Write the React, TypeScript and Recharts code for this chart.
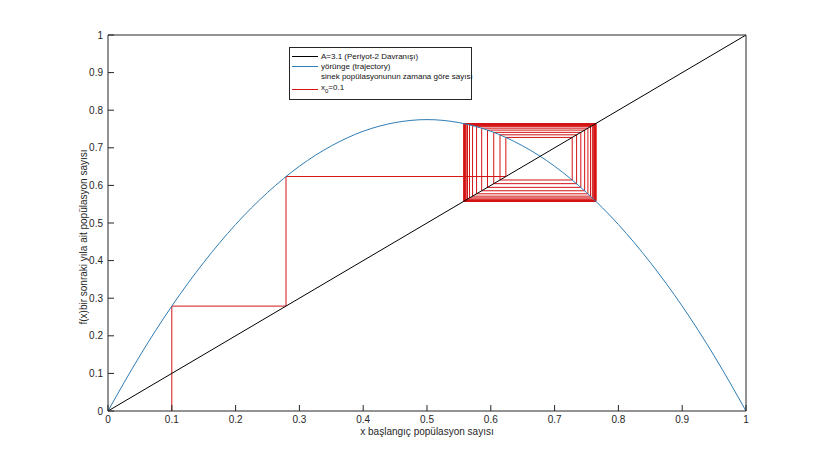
import { ComposedChart, Line, XAxis, YAxis, Label } from 'recharts'

// ── values ─────────────────────────────────────────────────────
const TICKS = [0, 0.1, 0.2, 0.3, 0.4, 0.5, 0.6, 0.7, 0.8, 0.9, 1]
const TICK_LABELS = ['0', '0.1', '0.2', '0.3', '0.4', '0.5', '0.6', '0.7', '0.8', '0.9', '1']

// parabola f(x) (blue)
const curveX = [0, 0.05, 0.1, 0.15, 0.2, 0.25, 0.3, 0.35, 0.4, 0.45, 0.5, 0.55, 0.6, 0.65, 0.7, 0.75, 0.8, 0.85, 0.9, 0.95, 1]
const curveY = [0, 0.147, 0.279, 0.395, 0.496, 0.581, 0.651, 0.705, 0.744, 0.767, 0.775, 0.767, 0.744, 0.705, 0.651, 0.581, 0.496, 0.395, 0.279, 0.147, 0]

// y = x (black)
const diagX = [0, 1]
const diagY = [0, 1]

// population from year to year, starting at x0 = 0.1 (red cobweb)
const orbit = [
  0.1, 0.279, 0.6236, 0.7276, 0.6144, 0.7345, 0.6046, 0.7411, 0.5948, 0.7471,
  0.5857, 0.7522, 0.5777, 0.7563, 0.5714, 0.7592, 0.5667, 0.7612, 0.5635, 0.7625,
  0.5614, 0.7633, 0.5601, 0.7638, 0.5593, 0.7641, 0.5588, 0.7643, 0.5585, 0.7644,
  0.5583, 0.7645, 0.5582, 0.7645, 0.5581, 0.7646, 0.5581, 0.7646,
]

const curveData = curveX.map((x, i) => ({ x, y: curveY[i] }))
const diagData = diagX.map((x, i) => ({ x, y: diagY[i] }))
const cobwebData: { x: number; y: number }[] = [{ x: orbit[0], y: 0 }]
for (let i = 0; i < orbit.length - 1; i++) {
  cobwebData.push({ x: orbit[i], y: orbit[i + 1] })
  cobwebData.push({ x: orbit[i + 1], y: orbit[i + 1] })
}

const FONT = '"Liberation Sans", Arial, Helvetica, sans-serif'
const AXIS = '#262626'
const M = 8   // tick margin
const T = 6   // inward tick length

const labelFor = (v: number) => TICK_LABELS[TICKS.indexOf(v)] ?? String(v)

// MATLAB-style inward ticks
const BottomTick = ({ x, y, payload }: any) => (
  <g>
    <line x1={x} x2={x} y1={y - M} y2={y - M - T} stroke={AXIS} />
    <text x={x} y={y + 4} textAnchor="middle" fontSize={10} fill={AXIS} fontFamily={FONT}>{labelFor(payload.value)}</text>
  </g>
)
const TopTick = ({ x, y }: any) => <line x1={x} x2={x} y1={y + M} y2={y + M + T} stroke={AXIS} />
const LeftTick = ({ x, y, payload }: any) => (
  <g>
    <line x1={x + M} x2={x + M + T} y1={y} y2={y} stroke={AXIS} />
    <text x={x + 3} y={y + 3.5} textAnchor="end" fontSize={10} fill={AXIS} fontFamily={FONT}>{labelFor(payload.value)}</text>
  </g>
)
const RightTick = ({ x, y }: any) => <line x1={x - M} x2={x - M - T} y1={y} y2={y} stroke={AXIS} />

const legendRow = { display: 'flex', alignItems: 'center', height: 10.5, whiteSpace: 'nowrap' as const }
const sample = (color: string) => (
  <span style={{ display: 'inline-block', flexShrink: 0, width: 26, height: 0, borderTop: `1px solid ${color}`, marginRight: 3 }} />
)

export default function App() {
  return (
    <div style={{ position: 'absolute', left: 0, top: 0, width: 825, height: 462, background: '#fff', fontFamily: FONT }}>
      <ComposedChart width={825} height={462} margin={{ top: 25, right: 69, bottom: 21, left: 68 }}>
        <XAxis xAxisId="b" type="number" dataKey="x" domain={[0, 1]} ticks={TICKS} orientation="bottom"
          height={30} stroke={AXIS} tickLine={false} tickSize={0} tickMargin={M} tick={<BottomTick />} interval={0}>
          <Label content={() => (
            <text x={427} y={435} textAnchor="middle" fontSize={10} fill={AXIS} fontFamily={FONT}>x başlangıç popülasyon sayısı</text>
          )} />
        </XAxis>
        <XAxis xAxisId="t" type="number" dataKey="x" domain={[0, 1]} ticks={TICKS} orientation="top"
          height={10} stroke={AXIS} tickLine={false} tickSize={0} tickMargin={M} tick={<TopTick />} interval={0} />
        <YAxis yAxisId="l" type="number" domain={[0, 1]} ticks={TICKS} orientation="left"
          width={40} stroke={AXIS} tickLine={false} tickSize={0} tickMargin={M} tick={<LeftTick />} interval={0}>
          <Label content={() => (
            <text x={0} y={0} transform="translate(87,237) rotate(-90)" textAnchor="middle" fontSize={10} fill={AXIS} fontFamily={FONT}>
              f(x)bir sonraki yıla ait popülasyon sayısı
            </text>
          )} />
        </YAxis>
        <YAxis yAxisId="r" type="number" domain={[0, 1]} ticks={TICKS} orientation="right"
          width={10} stroke={AXIS} tickLine={false} tickSize={0} tickMargin={M} tick={<RightTick />} interval={0} />

        <Line xAxisId="b" yAxisId="l" data={cobwebData} dataKey="y" type="linear" stroke="#d41414" strokeWidth={1}
          dot={false} activeDot={false} isAnimationActive={false} />
        <Line xAxisId="b" yAxisId="l" data={curveData} dataKey="y" type="monotone" stroke="#2e7db3" strokeWidth={1}
          dot={false} activeDot={false} isAnimationActive={false} />
        <Line xAxisId="b" yAxisId="l" data={diagData} dataKey="y" type="linear" stroke="#000" strokeWidth={1}
          dot={false} activeDot={false} isAnimationActive={false} />
      </ComposedChart>

      {/* legend */}
      <div style={{ position: 'absolute', left: 289, top: 47, width: 183, height: 53, border: '1px solid #262626', background: '#fff',
        fontSize: 8, color: '#111', padding: '3px 0 0 2px', boxSizing: 'border-box' }}>
        <div style={legendRow}>{sample('#000')}A=3.1 (Periyot-2 Davranışı)</div>
        <div style={legendRow}>{sample('#2e7db3')}yörünge (trajectory)</div>
        <div style={{ display: 'flex', alignItems: 'flex-end' }}>
          <span style={{ display: 'inline-block', flexShrink: 0, width: 26, marginRight: 3, marginBottom: 3, borderTop: '1px solid #d41414' }} />
          <div>
            <div style={{ height: 10.5, whiteSpace: 'nowrap' }}>sinek popülasyonunun zamana göre sayısı</div>
            <div style={{ height: 10.5, whiteSpace: 'nowrap' }}>x<sub style={{ fontSize: 6 }}>0</sub>=0.1</div>
          </div>
        </div>
      </div>
    </div>
  )
}
